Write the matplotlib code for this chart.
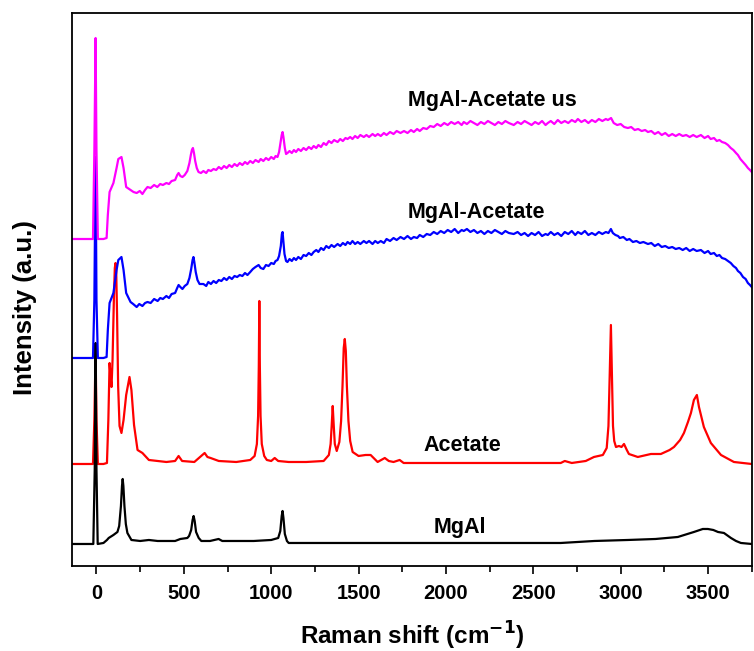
import matplotlib
matplotlib.use('Agg')
from matplotlib import pyplot as plt
from matplotlib.ticker import MultipleLocator

# Raman shift (cm-1) and intensity (a.u.), one pair of lists per spectrum
mgal_x = [-140, -30, -18, -10, -5, 0, 7, 40, 60, 70, 97, 120, 130, 140, 146, 150, 154, 160, 168, 177,
          200, 250, 300, 350, 400, 450, 480, 520, 530, 542, 550, 556, 562, 570, 585, 600,
          650, 699, 720, 800, 900, 1000, 1040, 1052, 1060, 1065, 1070, 1078, 1090, 1100,
          1300, 1500, 1800, 2200, 2657, 2850, 3041, 3200, 3327, 3419,
          3470, 3499, 3530, 3557, 3591, 3631, 3660, 3688, 3750]
mgal_y = [22, 22, 22, 96, 223, 96, 22, 23, 26, 28, 31, 34, 40, 60, 80, 87, 80, 60, 42, 33,
          26, 25, 26, 25, 25, 25, 27, 28, 30, 36, 46, 50, 45, 34, 28, 25,
          25, 27, 25, 25, 25, 26, 28, 35, 50, 55, 48, 32, 25, 23,
          23, 23, 23, 23, 23, 25, 26, 27, 29, 34,
          37, 37, 36, 34, 33, 28, 25, 23, 22]

acetate_x = [-140, -20, -12, -5, 0, 8, 40, 60, 68, 75, 80, 86, 92, 100, 105, 109, 113, 118, 124, 132,
             143, 155, 170, 189, 200, 215, 235, 263, 300, 400, 450, 470, 490, 560,
             619, 635, 653, 700, 800, 880, 905, 918, 925, 929, 932, 935, 939, 946, 960, 975,
             1000, 1020, 1040, 1100, 1200, 1300, 1330, 1340, 1346, 1352, 1358, 1364, 1375,
             1390, 1400, 1408, 1415, 1421, 1427, 1433, 1442, 1452, 1466,
             1500, 1540, 1569, 1609, 1650, 1673, 1700, 1735, 1758,
             1900, 2100, 2300, 2500, 2657, 2680, 2720, 2800, 2847, 2898, 2920, 2930, 2937, 2944,
             2950, 2956, 2963, 2973, 2990, 3005, 3019, 3035, 3047, 3098, 3173, 3230, 3280, 3305,
             3340, 3362, 3385, 3402, 3419, 3436, 3448, 3476, 3516, 3574, 3648, 3750]
acetate_y = [102, 102, 146, 216, 146, 102, 102, 103, 146, 203, 191, 179, 206, 270, 298, 303, 295, 250, 180, 140,
             133, 146, 171, 189, 176, 141, 116, 113, 106, 104, 105, 110, 105, 104,
             113, 109, 108, 105, 104, 106, 110, 122, 150, 200, 265, 200, 150, 122, 110, 106,
             105, 108, 105, 104, 104, 105, 111, 122, 140, 160, 140, 122, 115,
             124, 145, 180, 218, 227, 215, 180, 145, 125, 114,
             110, 111, 111, 104, 108, 105, 104, 106, 103,
             103, 103, 103, 103, 103, 105, 103, 105, 109, 111, 118, 140, 190, 241,
             190, 140, 125, 119, 120, 119, 122, 116, 112, 109, 112, 112, 116, 119,
             126, 133, 144, 153, 166, 171, 159, 139, 123, 111, 104, 102]

mgal_ac_x = [-140, -20, -12, -5, 0, 8, 40, 58, 65, 75, 97, 115, 125, 143, 155, 170,
             195, 210, 230, 245, 263, 278, 292, 310, 330, 350, 365, 380, 400, 415, 430, 450,
             462, 470, 480, 492, 505, 520, 532, 542, 550, 555, 560, 568, 578, 590,
             612, 628, 640, 655, 670, 685, 700, 715, 730, 745, 760, 775, 790, 805, 820, 835,
             850, 864, 880, 895, 910, 928, 940, 955, 970, 985, 1000, 1015, 1025, 1036,
             1045, 1055, 1061, 1065, 1069, 1076, 1085, 1093, 1105, 1118, 1130, 1142, 1155,
             1170, 1185, 1200, 1215, 1230, 1243, 1258, 1270, 1285, 1300, 1315, 1330, 1345,
             1360, 1380, 1395, 1410, 1425, 1437, 1452, 1465, 1480, 1495, 1510, 1530, 1545,
             1560, 1580, 1595, 1610, 1627, 1645, 1660, 1680, 1700, 1718, 1740, 1760, 1780,
             1800, 1816, 1835, 1850, 1870, 1890, 1910, 1930, 1950, 1970, 1990, 2010, 2030,
             2050, 2070, 2090, 2102, 2120, 2140, 2160, 2180, 2200, 2220, 2240, 2260, 2280,
             2300, 2320, 2340, 2360, 2388, 2410, 2430, 2450, 2470, 2490, 2510, 2530, 2550,
             2570, 2583, 2600, 2620, 2640, 2660, 2680, 2700, 2720, 2740, 2755, 2775, 2795,
             2815, 2835, 2855, 2875, 2895, 2915, 2930, 2944, 2955, 2970, 2985, 2995, 3015,
             3035, 3050, 3070, 3090, 3110, 3130, 3156, 3175, 3195, 3215, 3235, 3255, 3275,
             3295, 3315, 3335, 3355, 3375, 3395, 3415, 3435, 3459, 3480, 3500, 3515, 3534,
             3550, 3565, 3580, 3598, 3614, 3630, 3645, 3660, 3671, 3685, 3700, 3715, 3728,
             3740, 3750]
mgal_ac_y = [208, 208, 266, 409, 266, 208, 208, 209, 236, 263, 273, 296, 306, 309, 296, 273,
             264, 262, 259, 262, 260, 263, 264, 263, 267, 265, 268, 267, 270, 268, 272, 273,
             278, 281, 279, 277, 280, 282, 288, 297, 306, 309, 304, 294, 286, 282,
             282, 280, 284, 282, 285, 283, 286, 285, 288, 286, 289, 287, 290, 289, 291, 290,
             293, 291, 294, 297, 299, 301, 298, 297, 301, 300, 303, 302, 305, 306,
             310, 320, 332, 334, 326, 312, 305, 304, 307, 305, 308, 306, 309,
             307, 311, 310, 313, 311, 314, 316, 314, 318, 316, 320, 318, 321,
             319, 322, 320, 323, 321, 324, 322, 325, 322, 324, 322, 325, 323,
             325, 322, 325, 323, 325, 323, 327, 325, 328, 326, 329, 327, 330,
             327, 329, 328, 331, 329, 332, 331, 334, 332, 335, 333, 336, 334,
             337, 333, 336, 335, 337, 334, 336, 333, 335, 332, 335, 333, 336,
             334, 332, 335, 333, 332, 334, 331, 333, 330, 333, 331, 334, 330,
             332, 331, 334, 331, 333, 330, 334, 332, 335, 331, 334, 332, 335,
             331, 333, 331, 334, 332, 334, 333, 337, 333, 331, 330, 328, 329,
             326, 327, 324, 325, 323, 324, 322, 323, 320, 322, 319, 320, 318,
             319, 317, 318, 316, 318, 315, 317, 315, 316, 313, 315, 312, 313,
             310, 311, 308, 307, 305, 303, 300, 298, 295, 293, 289, 287, 283,
             281, 279]

mgal_us_x = [-140, -20, -12, -5, 0, 8, 40, 58, 65, 75, 97, 115, 125, 143, 155, 170,
             195, 212, 230, 248, 263, 278, 292, 310, 330, 348, 365, 380, 400, 415, 430, 450,
             462, 470, 480, 492, 505, 520, 532, 540, 546, 552, 558, 565, 574, 584, 598,
             612, 628, 640, 655, 670, 685, 700, 715, 730, 745, 760, 775, 790, 805, 820, 835,
             850, 864, 880, 895, 910, 928, 940, 955, 970, 985, 1000, 1015, 1025, 1036,
             1045, 1052, 1060, 1065, 1070, 1078, 1085, 1093, 1105, 1118, 1130, 1142, 1155,
             1170, 1185, 1200, 1215, 1230, 1243, 1258, 1270, 1285, 1300, 1315, 1330, 1345,
             1360, 1380, 1395, 1410, 1425, 1437, 1452, 1465, 1480, 1495, 1510, 1530, 1545,
             1560, 1580, 1595, 1610, 1627, 1645, 1660, 1680, 1700, 1718, 1740, 1760, 1780,
             1800, 1816, 1835, 1850, 1870, 1890, 1910, 1930, 1950, 1970, 1990, 2010, 2030,
             2050, 2070, 2090, 2102, 2120, 2140, 2160, 2180, 2200, 2220, 2240, 2260, 2280,
             2300, 2320, 2340, 2360, 2388, 2410, 2430, 2450, 2470, 2490, 2510, 2530, 2550,
             2570, 2583, 2600, 2620, 2640, 2660, 2680, 2700, 2720, 2740, 2755, 2775, 2795,
             2815, 2835, 2855, 2875, 2895, 2915, 2927, 2945, 2960, 2980, 3000, 3020, 3041,
             3060, 3080, 3100, 3120, 3140, 3156, 3175, 3195, 3215, 3235, 3255, 3275, 3295,
             3315, 3335, 3355, 3375, 3395, 3415, 3435, 3459, 3480, 3500, 3515, 3534, 3550,
             3565, 3580, 3598, 3614, 3630, 3645, 3660, 3671, 3685, 3700, 3715, 3728, 3740,
             3750]
mgal_us_y = [327, 327, 416, 528, 416, 327, 327, 328, 351, 374, 383, 398, 407, 409, 398, 379,
             376, 374, 373, 375, 372, 376, 379, 378, 381, 379, 382, 381, 383, 382, 385, 386,
             391, 393, 390, 389, 391, 395, 403, 411, 416, 418, 413, 405, 398, 394, 393,
             395, 393, 396, 395, 397, 396, 399, 397, 400, 398, 401, 399, 402, 400, 403, 401,
             404, 402, 405, 403, 406, 404, 407, 405, 408, 406, 409, 407, 410, 409,
             414, 422, 431, 434, 429, 418, 412, 413, 415, 413, 416, 414, 417,
             415, 418, 416, 419, 417, 420, 418, 421, 419, 423, 421, 425, 423,
             426, 424, 427, 425, 428, 427, 429, 427, 430, 428, 431, 429, 431,
             429, 432, 430, 432, 430, 433, 431, 434, 432, 435, 433, 435, 433,
             436, 434, 437, 435, 438, 437, 440, 439, 442, 440, 443, 441, 444,
             442, 444, 441, 444, 442, 445, 443, 441, 444, 442, 445, 443, 441,
             444, 442, 445, 443, 441, 444, 442, 445, 443, 441, 444, 442, 445,
             441, 443, 445, 442, 446, 443, 445, 443, 446, 444, 447, 444, 446,
             443, 446, 444, 447, 445, 447, 446, 448, 443, 441, 442, 439, 438,
             439, 436, 437, 435, 436, 434, 435, 432, 434, 431, 433, 430, 432,
             430, 432, 430, 431, 429, 431, 429, 431, 428, 430, 427, 428, 425,
             426, 424, 423, 421, 418, 416, 413, 411, 407, 404, 401, 398, 396,
             394]

labels = ['MgAl', 'Acetate', 'MgAl-Acetate', 'MgAl-Acetate us']
label_x = [1930, 1873, 1781, 1781]
label_y = [38, 120, 354, 466]

plt.rcParams['font.family'] = ['Liberation Sans', 'DejaVu Sans']
plt.rcParams['font.weight'] = 'bold'
plt.rcParams['mathtext.default'] = 'bf'

fig = plt.figure(figsize=(7.54, 6.51), dpi=100)
ax = fig.add_axes([0.0955, 0.1306, 0.9015, 0.8494])

lw = 1.6
ax.plot(acetate_x, acetate_y, color='#ff0000', lw=lw)
ax.plot(mgal_x, mgal_y, color='black', lw=lw)
ax.plot(mgal_ac_x, mgal_ac_y, color='#0000ff', lw=lw)
ax.plot(mgal_us_x, mgal_us_y, color='#ff00ff', lw=lw)

for t, x, y in zip(labels, label_x, label_y):
    ax.text(x, y, t, fontsize=15.5, fontweight='bold', va='center', ha='left')

ax.set_xlim(-140, 3750)
ax.set_ylim(0, 553)
ax.xaxis.set_major_locator(MultipleLocator(500))
ax.xaxis.set_minor_locator(MultipleLocator(250))
ax.tick_params(axis='x', which='major', direction='out', length=6, width=1.2, labelsize=14.5, pad=7)
ax.tick_params(axis='x', which='minor', direction='out', length=4, width=1.2)
ax.set_yticks([])
for s in ax.spines.values():
    s.set_linewidth(1.3)

ax.set_xlabel('Raman shift (cm$^{-1}$)', fontsize=17.5, fontweight='bold')
ax.set_ylabel('Intensity (a.u.)', fontsize=18.5, fontweight='bold')
ax.xaxis.set_label_coords(0.5, -0.098)
ax.yaxis.set_label_coords(-0.051, 0.467)

fig.savefig('out.png', dpi=100)
